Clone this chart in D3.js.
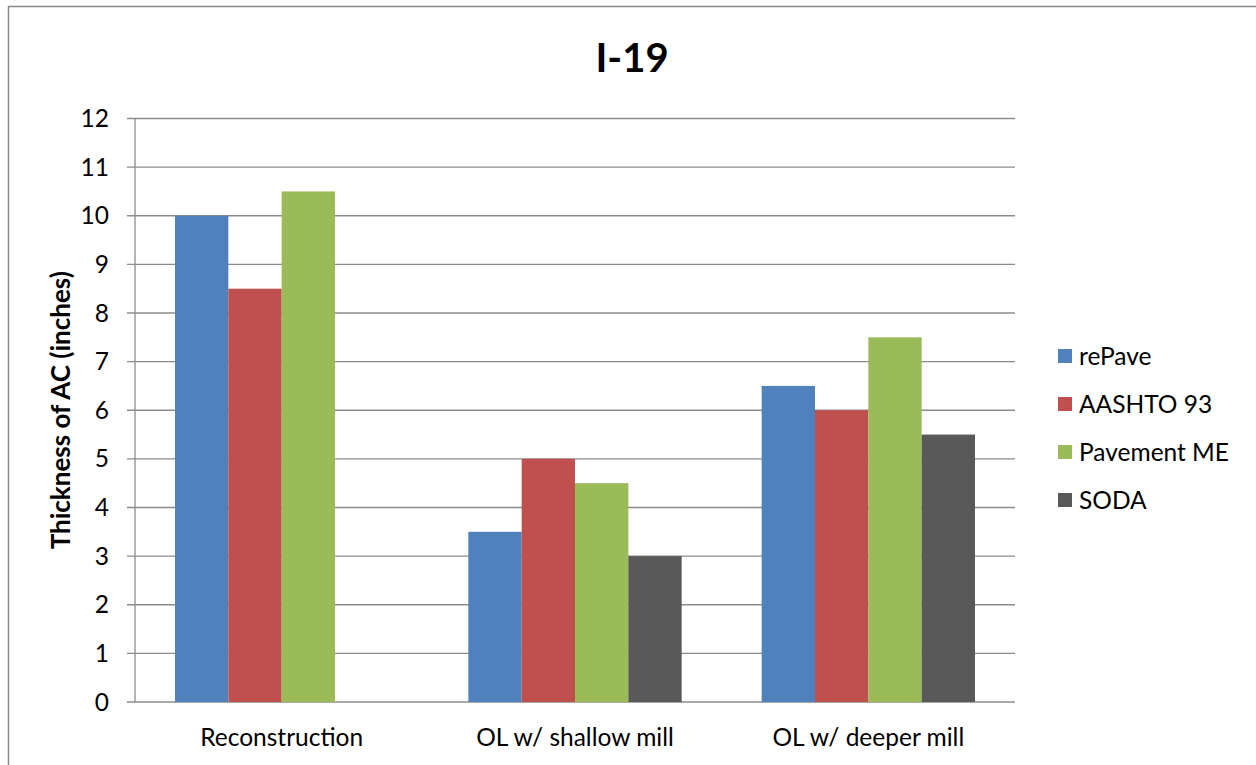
<!DOCTYPE html>
<html><head><meta charset="utf-8">
<script src="https://cdn.jsdelivr.net/npm/d3@7/dist/d3.min.js"></script>
<style>body{margin:0;background:#fff}svg{display:block;font-family:Lato,"Open Sans",sans-serif}</style>
</head><body><svg id="c" width="1256" height="765"></svg>
<script>
const categories = ["Reconstruction", "OL w/ shallow mill", "OL w/ deeper mill"];
const seriesNames = ["rePave", "AASHTO 93", "Pavement ME", "SODA"];
const rePave = [10, 3.5, 6.5];
const aashto93 = [8.5, 5, 6];
const pavementME = [10.5, 4.5, 7.5];
const soda = [0, 3, 5.5];
const yTicks = [0,1,2,3,4,5,6,7,8,9,10,11,12];
const colors = ["#4F81BD", "#C0504D", "#9BBB59", "#595959"];
const seriesValues = [rePave, aashto93, pavementME, soda];

(function(){
const svg = d3.select("#c");
const pL = 135, pR = 1015, pT = 118.5, pB = 702;
const fs = 24.5;

svg.append("rect").attr("x", 8.5).attr("y", 6.5).attr("width", 1300).attr("height", 800)
  .attr("fill", "none").attr("stroke", "#888").attr("stroke-width", 1.5);

const x0 = d3.scaleBand().domain(categories).range([pL, pR]).paddingInner(0).paddingOuter(0);
const x1 = d3.scaleBand().domain(seriesNames).range([0, x0.bandwidth()]).paddingInner(0).paddingOuter(0.75);
const y = d3.scaleLinear().domain([0, 12]).range([pB, pT]);

svg.append("g").selectAll("line").data(yTicks).join("line")
  .attr("x1", pL - 8).attr("x2", pR)
  .attr("y1", d => y(d)).attr("y2", d => y(d))
  .attr("stroke", "#8c8c8c").attr("stroke-width", 1.3);

svg.append("line").attr("x1", pL).attr("x2", pL).attr("y1", pT).attr("y2", pB)
  .attr("stroke", "#8c8c8c").attr("stroke-width", 1.3);

svg.append("g").selectAll("text").data(yTicks).join("text")
  .attr("x", 109).attr("y", d => y(d)).attr("dy", "0.35em").attr("text-anchor", "end")
  .attr("font-size", fs).attr("fill", "#000").text(d => d);

const groups = svg.append("g").selectAll("g").data(categories).join("g")
  .attr("transform", c => `translate(${x0(c)},0)`);
groups.selectAll("rect").data((c, i) => seriesNames.map((s, j) => ({s, v: seriesValues[j][i], j})))
  .join("rect")
  .attr("x", d => x1(d.s)).attr("width", x1.bandwidth())
  .attr("y", d => y(d.v)).attr("height", d => y(0) - y(d.v))
  .attr("fill", d => colors[d.j]);

svg.append("g").selectAll("text").data(categories).join("text")
  .attr("x", c => x0(c) + x0.bandwidth()/2).attr("y", 746).attr("text-anchor", "middle")
  .attr("font-size", fs).attr("fill", "#000").text(c => c);

svg.append("text").attr("x", 632).attr("y", 72).attr("text-anchor", "middle")
  .attr("font-size", 40).attr("font-weight", "bold").text("I-19");

svg.append("text").attr("transform", `translate(61,${(pT+pB)/2}) rotate(-90)`)
  .attr("text-anchor", "middle").attr("dy", "0.35em").attr("font-size", 26).attr("font-weight", "bold")
  .text("Thickness of AC (inches)");

const leg = svg.append("g").selectAll("g").data(seriesNames).join("g")
  .attr("transform", (d, i) => `translate(1058,${356 + i*48})`);
leg.append("rect").attr("x", 0).attr("y", -7).attr("width", 14).attr("height", 14)
  .attr("fill", (d, i) => colors[i]);
leg.append("text").attr("x", 21).attr("y", 0).attr("dy", "0.35em").attr("font-size", fs).text(d => d);
})();
</script></body></html>
